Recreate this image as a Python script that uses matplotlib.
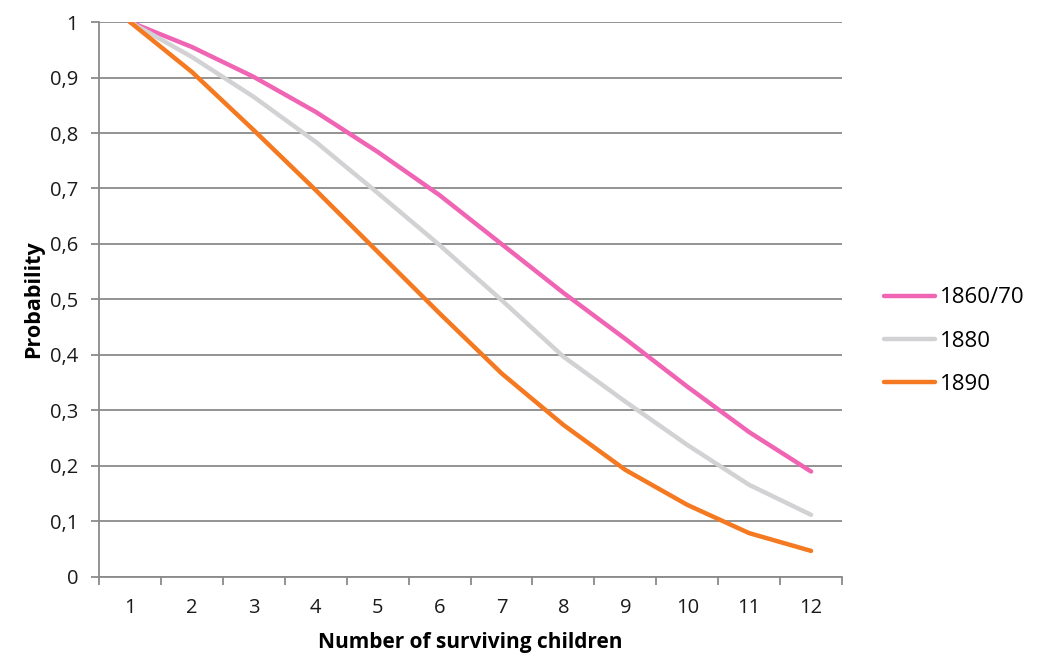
import matplotlib
matplotlib.use('Agg')
import matplotlib.pyplot as plt
import matplotlib.ticker as ticker

plt.rcParams['font.family'] = ['Open Sans', 'DejaVu Sans']

children = [1, 2, 3, 4, 5, 6, 7, 8, 9, 10, 11, 12]
p_1860_70 = [1.0, 0.955, 0.901, 0.838, 0.766, 0.688, 0.600, 0.512, 0.429, 0.343, 0.261, 0.190]
p_1880 = [1.0, 0.937, 0.865, 0.784, 0.692, 0.598, 0.499, 0.397, 0.316, 0.238, 0.166, 0.112]
p_1890 = [1.0, 0.910, 0.805, 0.697, 0.586, 0.475, 0.367, 0.274, 0.193, 0.130, 0.079, 0.047]

series = [
    ('1860/70', p_1860_70, '#f064b4'),
    ('1880', p_1880, '#d2d2d4'),
    ('1890', p_1890, '#f47920'),
]

fig = plt.figure(figsize=(10.37, 6.57), dpi=100)
ax = fig.add_axes([0.0955, 0.1218, 0.7165, 0.8447])

for label, vals, color in series:
    ax.plot(children, vals, color=color, lw=3.2, label=label,
            solid_capstyle='round', solid_joinstyle='round', zorder=3)

ax.set_xlim(0.5, 12.5)
ax.set_ylim(0, 1)
ax.set_yticks([i / 10 for i in range(11)])
ax.yaxis.set_major_formatter(ticker.FuncFormatter(
    lambda v, p: '0' if v == 0 else ('1' if v == 1 else f'{v:.1f}'.replace('.', ','))))
ax.set_xticks(children)
ax.set_xticks([i + 0.5 for i in range(0, 13)], minor=True)

grid_col = '#8a8a8a'
ax.grid(axis='y', color=grid_col, lw=1.3, zorder=1)
for s in ['top', 'right']:
    ax.spines[s].set_visible(False)
for s in ['left', 'bottom']:
    ax.spines[s].set_color(grid_col)
    ax.spines[s].set_linewidth(1.3)

ax.tick_params(axis='x', which='major', length=0, pad=15, labelsize=14.5, colors='#1a1a1a')
ax.tick_params(axis='x', which='minor', length=6, width=1.3, color=grid_col, direction='out')
ax.tick_params(axis='y', length=6, width=1.3, color=grid_col, pad=9, labelsize=14.5,
               labelcolor='#1a1a1a')

ax.set_xlabel('Number of surviving children', fontsize=15, fontweight='bold', labelpad=10)
ax.set_ylabel('Probability', fontsize=15.5, fontweight='bold', labelpad=4)

ax.legend(loc='center left', bbox_to_anchor=(1.03, 0.425), frameon=False,
          fontsize=16, handlelength=2.3, handletextpad=0.2, labelspacing=1.0)

fig.savefig('out.png', dpi=100)
